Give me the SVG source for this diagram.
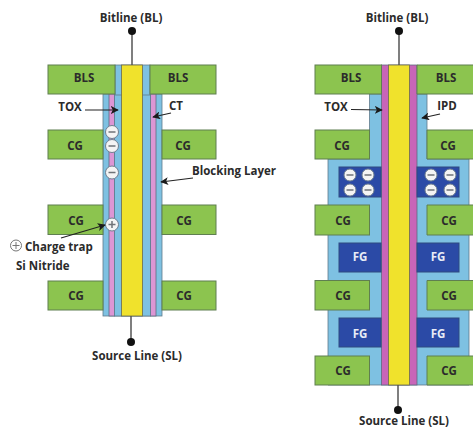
<svg xmlns="http://www.w3.org/2000/svg" width="473" height="429" viewBox="0 0 473 429">
<defs>
<marker id="ah" viewBox="0 0 10 10" refX="9" refY="5" markerWidth="8" markerHeight="8" markerUnits="userSpaceOnUse" orient="auto"><path d="M0 0L10 5L0 10L2.5 5Z" fill="#1a1a1a"/></marker>
</defs>
<style>
text{font-family:"Open Sans","Liberation Sans",sans-serif;font-weight:700;font-size:11.5px;fill:#2b2b2b;text-anchor:middle}
.t{text-anchor:start}
.w{fill:#e8ecf6}
.g{fill:#8cc44f;stroke:#5f7f50;stroke-width:1}
.b{fill:#7ec1e2;stroke:#607a8c;stroke-width:.8}
.p{fill:#dc96d4;stroke:#606a80;stroke-width:.8}
.m{fill:#c865b8;stroke:#606a80;stroke-width:.8}
.y{fill:#f0e22c;stroke:#6a6a50;stroke-width:.8}
.f{fill:#2b4aa6;stroke:#2f4a80;stroke-width:1}
.c{fill:#f4f4f4;stroke:#6f7f90;stroke-width:1}
.d{stroke:#6f7378;stroke-width:1.5;fill:none}
.wire{stroke:#555;stroke-width:1.5;fill:none}
.ar{stroke:#222;stroke-width:1.2;fill:none;marker-end:url(#ah)}
</style>
<rect width="473" height="429" fill="#ffffff"/>

<g id="left-channel">
<rect class="b" x="103" y="94" width="59" height="222"/>
<rect class="p" x="109" y="94" width="5.500" height="222"/>
<rect class="p" x="150.500" y="94" width="5.500" height="222"/>
<rect class="b" x="114.500" y="94" width="36" height="222"/>
<rect class="b" x="115" y="65" width="35" height="30"/>
<rect class="y" x="121.500" y="65" width="21" height="251"/>
</g>
<g id="left-bls-l"><rect class="g" x="48" y="65" width="67" height="29"/><text x="84" y="82">BLS</text></g>
<g id="left-bls-r"><rect class="g" x="150" y="65" width="66" height="29"/><text x="178" y="82">BLS</text></g>
<g id="left-cg1-l"><rect class="g" x="48" y="130" width="55" height="29"/><text x="75" y="150">CG</text></g>
<g id="left-cg1-r"><rect class="g" x="162" y="130" width="54" height="29"/><text x="183" y="150">CG</text></g>
<g id="left-cg2-l"><rect class="g" x="48" y="205" width="55" height="29.500"/><text x="76" y="225">CG</text></g>
<g id="left-cg2-r"><rect class="g" x="162" y="205" width="54" height="29.500"/><text x="184" y="225">CG</text></g>
<g id="left-cg3-l"><rect class="g" x="48" y="281" width="55" height="29"/><text x="76" y="300">CG</text></g>
<g id="left-cg3-r"><rect class="g" x="162" y="281" width="54" height="29"/><text x="184" y="300">CG</text></g>
<g id="left-charges">
<circle class="c" cx="112" cy="132" r="6.500"/><path class="d" d="M108.500 132h7"/>
<circle class="c" cx="112" cy="146" r="6.500"/><path class="d" d="M108.500 146h7"/>
<circle class="c" cx="112" cy="172.500" r="6.500"/><path class="d" d="M108.500 172.500h7"/>
<circle class="c" cx="112" cy="224.500" r="6.500"/><path class="d" d="M108.500 224.500h7M112 221v7"/>
</g>
<g id="legend-plus"><circle cx="16" cy="245.500" r="5.500" fill="#fff" stroke="#777" stroke-width="1"/><path d="M12.500 245.500h7M16 242v7" stroke="#777" stroke-width="1" fill="none"/></g>

<g id="right-channel">
<path class="b" d="M369.500 94H427V159H469V385H328V159H369.500Z"/>
<rect class="m" x="381.500" y="65" width="35.500" height="320"/>
<rect class="y" x="388.500" y="65" width="21" height="320"/>
</g>
<g id="right-bls-l"><rect class="g" x="315" y="65" width="66.500" height="29"/><text x="351" y="82">BLS</text></g>
<g id="right-bls-r"><path class="g" d="M474 65H417V94H474"/><text x="446" y="82">BLS</text></g>
<g id="right-cg1-l"><rect class="g" x="315" y="130" width="54.500" height="29"/><text x="342" y="150">CG</text></g>
<g id="right-cg1-r"><path class="g" d="M474 130H427V159H474"/><text x="448" y="150">CG</text></g>
<g id="right-cg2-l"><rect class="g" x="315" y="205" width="54.500" height="30"/><text x="343" y="225">CG</text></g>
<g id="right-cg2-r"><path class="g" d="M474 205H427V235H474"/><text x="449" y="225">CG</text></g>
<g id="right-cg3-l"><rect class="g" x="315" y="280.500" width="54.500" height="29.500"/><text x="343" y="300">CG</text></g>
<g id="right-cg3-r"><path class="g" d="M474 280.500H427V310H474"/><text x="449" y="300">CG</text></g>
<g id="right-cg4-l"><rect class="g" x="315" y="356" width="54.500" height="29"/><text x="343" y="375">CG</text></g>
<g id="right-cg4-r"><path class="g" d="M474 356H427V385H474"/><text x="449" y="375">CG</text></g>
<g id="right-fg0-l"><rect class="f" x="339" y="167" width="42" height="30"/></g>
<g id="right-fg0-r"><rect class="f" x="417" y="167" width="42" height="30"/></g>
<g id="right-fg1-l"><rect class="f" x="339" y="243" width="42" height="29"/><text class="w" x="360" y="261">FG</text></g>
<g id="right-fg1-r"><rect class="f" x="417" y="243" width="42" height="29"/><text class="w" x="438" y="261">FG</text></g>
<g id="right-fg2-l"><rect class="f" x="339" y="318" width="42" height="29"/><text class="w" x="360" y="338">FG</text></g>
<g id="right-fg2-r"><rect class="f" x="417" y="318" width="42" height="29"/><text class="w" x="438" y="338">FG</text></g>
<g id="right-charges">
<circle class="c" cx="350" cy="175" r="6"/><path class="d" d="M346.500 175h7"/>
<circle class="c" cx="368" cy="175" r="6"/><path class="d" d="M364.500 175h7"/>
<circle class="c" cx="350" cy="190" r="6"/><path class="d" d="M346.500 190h7"/>
<circle class="c" cx="368" cy="190" r="6"/><path class="d" d="M364.500 190h7"/>
<circle class="c" cx="431" cy="175" r="6"/><path class="d" d="M427.500 175h7"/>
<circle class="c" cx="450" cy="175" r="6"/><path class="d" d="M446.500 175h7"/>
<circle class="c" cx="431" cy="190" r="6"/><path class="d" d="M427.500 190h7"/>
<circle class="c" cx="450" cy="190" r="6"/><path class="d" d="M446.500 190h7"/>
</g>

<g id="connectors">
<path class="wire" d="M132 65V31"/><circle cx="132" cy="31" r="4" fill="#111"/>
<path class="wire" d="M131 316V342"/><circle cx="131" cy="342" r="4" fill="#111"/>
<path class="wire" d="M399 65V31"/><circle cx="399" cy="31" r="4" fill="#111"/>
<path class="wire" d="M398 385V410"/><circle cx="398" cy="410" r="4" fill="#111"/>
<path class="ar" d="M85 110H118"/>
<path class="ar" d="M171 113L153 117"/>
<path class="ar" d="M193 178L161 182"/>
<path class="ar" d="M61 238L105 225"/>
<path class="ar" d="M351 109.500L382 110"/>
<path class="ar" d="M440 114L422 118"/>
</g>

<g id="labels">
<text x="131" y="22">Bitline (BL)</text>
<text x="397" y="22">Bitline (BL)</text>
<text x="70" y="111">TOX</text>
<text x="176" y="110">CT</text>
<text class="t" x="192" y="175">Blocking Layer</text>
<text class="t" x="25" y="251">Charge trap</text>
<text class="t" x="16" y="270">Si Nitride</text>
<text x="137" y="360">Source Line (SL)</text>
<text x="336" y="111">TOX</text>
<text x="447" y="110">IPD</text>
<text x="404" y="425">Source Line (SL)</text>
</g>
</svg>
